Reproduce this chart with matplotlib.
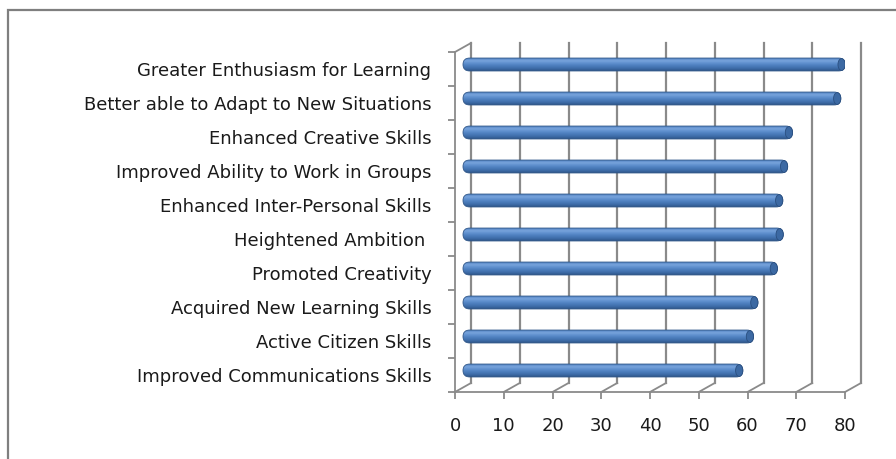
import numpy as np
import matplotlib
matplotlib.use("Agg")
import matplotlib.pyplot as plt
from matplotlib.transforms import ScaledTranslation
from matplotlib.patches import FancyBboxPatch, Ellipse, Rectangle
from matplotlib.lines import Line2D
from matplotlib.colors import LinearSegmentedColormap

categories = [
    "Greater Enthusiasm for Learning",
    "Better able to Adapt to New Situations",
    "Enhanced Creative Skills",
    "Improved Ability to Work in Groups",
    "Enhanced Inter-Personal Skills",
    "Heightened Ambition ",
    "Promoted Creativity",
    "Acquired New Learning Skills",
    "Active Citizen Skills",
    "Improved Communications Skills",
]
values = [78.4, 77.5, 67.6, 66.6, 65.6, 65.7, 64.5, 60.5, 59.6, 57.4]
xticks = [0, 10, 20, 30, 40, 50, 60, 70, 80]
xlabels = ["0", "10", "20", "30", "40", "50", "60", "70", "80"]

W, H, DPI = 896, 459, 100
plt.rcParams["font.family"] = ["DejaVu Sans"]
fig = plt.figure(figsize=(W / DPI, H / DPI), dpi=DPI)

GRAY = "#8a8a8a"
TXT = "#1a1a1a"

# outer frame
fig.add_artist(Rectangle((8 / W, -0.05), 1.2, (H - 10) / H + 0.05,
                         transform=fig.transFigure, fill=False,
                         edgecolor="#7f7f7f", lw=1.6))

# front plane of the 3D plot
ax = fig.add_axes([455 / W, (H - 392) / H, 390 / W, 340 / H])
n = len(categories)
ax.set_xlim(0, 80)
ax.set_ylim(n, 0)
ax.set_facecolor("none")
for s in ["top", "right"]:
    ax.spines[s].set_visible(False)
for s in ["left", "bottom"]:
    ax.spines[s].set_color(GRAY)
    ax.spines[s].set_linewidth(1.3)
ax.set_xticks(xticks)
ax.set_xticklabels(xlabels, fontsize=13, color=TXT)
ax.tick_params(axis="x", length=5, width=1.3, color=GRAY, pad=13)
ax.set_yticks(np.arange(n + 1))
ax.set_yticklabels([])
ax.tick_params(axis="y", which="major", length=5, width=1.3, color=GRAY)
ax.set_yticks(np.arange(n) + 0.5, minor=True)
ax.set_yticklabels(categories, minor=True, fontsize=13, color=TXT)
ax.tick_params(axis="y", which="minor", length=0, pad=17)

# depth offsets (back wall and bar mid-plane)
back = ax.transData + ScaledTranslation(0.16, 0.09, fig.dpi_scale_trans)
mid = ax.transData + ScaledTranslation(0.08, 0.045, fig.dpi_scale_trans)

# back wall gridlines
for t in xticks:
    ax.plot([t, t], [n, 0], transform=back, color=GRAY, lw=1.6,
            clip_on=False, zorder=1)

# floor diagonals and wall top diagonal (display -> figure coords)
inv = fig.transFigure.inverted()
def diag(pt):
    p0 = ax.transData.transform(pt)
    p1 = back.transform(pt)
    a, b = inv.transform([p0, p1])
    fig.add_artist(Line2D([a[0], b[0]], [a[1], b[1]], transform=fig.transFigure,
                          color=GRAY, lw=1.3))
for t in xticks:
    diag((t, n))
diag((0, 0))

# cylinder-like bars
cmap = LinearSegmentedColormap.from_list(
    "cyl", ["#5283c2", "#78a4dc", "#5e8fce", "#4b7dbc", "#3e6ca8", "#2d5588"])
grad = np.linspace(0, 1, 64).reshape(-1, 1)
h = 0.38
rx = 1.35
for i, v in enumerate(values):
    y = i + 0.5
    clip = FancyBboxPatch((0, y - h / 2), v, h,
                          boxstyle=f"round,pad=0,rounding_size={rx}",
                          mutation_aspect=(h / 2) / rx, transform=mid)
    im = ax.imshow(grad, extent=[0, v, y + h / 2, y - h / 2], aspect="auto",
                   cmap=cmap, transform=mid, zorder=3, interpolation="bilinear")
    im.set_clip_path(clip)
    outline = FancyBboxPatch((0, y - h / 2), v, h,
                             boxstyle=f"round,pad=0,rounding_size={rx}",
                             mutation_aspect=(h / 2) / rx, transform=mid,
                             fill=False, edgecolor="#2f5688", lw=0.6, zorder=4)
    ax.add_patch(outline)
    cap = Ellipse((v - rx * 0.55, y), rx * 1.1, h * 0.92, transform=mid,
                  facecolor="#3c69a3", edgecolor="#2a4f80", lw=0.6, zorder=5)
    ax.add_patch(cap)

ax.set_xlim(0, 80)
ax.set_ylim(n, 0)

fig.savefig("out.png", dpi=DPI)
